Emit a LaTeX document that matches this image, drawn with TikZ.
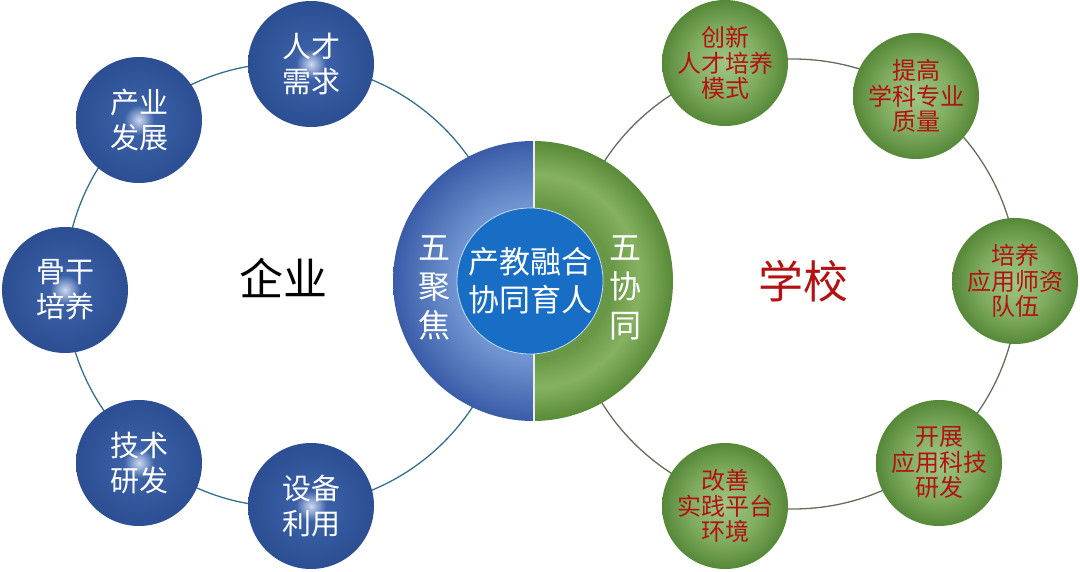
\documentclass[tikz,border=0pt]{standalone}
\usepackage{fontspec}
\setmainfont{Noto Sans CJK SC}

\definecolor{bluedark}{RGB}{44,78,146}
\definecolor{bluemid}{RGB}{58,96,166}
\definecolor{blueglow}{RGB}{205,218,242}
\definecolor{greendark}{RGB}{86,136,56}
\definecolor{greenmid}{RGB}{128,172,96}
\definecolor{greenglow}{RGB}{160,198,132}
\definecolor{halfblue}{RGB}{58,92,168}
\definecolor{halfbluelight}{RGB}{112,148,208}
\definecolor{halfgreen}{RGB}{88,138,56}
\definecolor{halfgreenmid}{RGB}{104,152,70}
\definecolor{halfgreenlight}{RGB}{134,178,96}
\definecolor{coreblue}{RGB}{24,110,196}
\definecolor{ringblue}{RGB}{52,112,142}
\definecolor{ringgreen}{RGB}{98,112,88}
\definecolor{schoolred}{RGB}{180,18,18}

\pgfdeclareradialshading{bluebead}{\pgfpoint{0bp}{0bp}}{color(0bp)=(blueglow); color(6bp)=(bluemid); color(25bp)=(bluedark); color(50bp)=(bluedark)}
\pgfdeclareradialshading{greenbead}{\pgfpoint{0bp}{0bp}}{color(0bp)=(greenglow); color(14bp)=(greenmid); color(25bp)=(greendark); color(50bp)=(greendark)}
\pgfdeclareradialshading{bluehalf}{\pgfpoint{0bp}{0bp}}{color(0bp)=(halfbluelight); color(14bp)=(halfbluelight); color(25bp)=(halfblue); color(50bp)=(halfblue)}
\pgfdeclareradialshading{greenhalf}{\pgfpoint{0bp}{0bp}}{color(0bp)=(halfgreenmid); color(14bp)=(halfgreenmid); color(19bp)=(halfgreenlight); color(25bp)=(halfgreen); color(50bp)=(halfgreen)}

\begin{document}
\begin{tikzpicture}[x=1pt,y=-1pt,
  qiye/.style={circle,minimum size=126pt,inner sep=0pt,shading=bluebead,text=white,align=center,font=\fontsize{29}{35}\selectfont},
  xuexiao/.style={circle,minimum size=126pt,inner sep=0pt,shading=greenbead,text=schoolred,align=center,font=\fontsize{24}{25.5}\selectfont},
  wu/.style={text=white,align=center,inner sep=0pt,font=\fontsize{32}{39}\selectfont}]
  \useasboundingbox (0,0) rectangle (1080,572);
  \coordinate (left) at (287,285);
  \coordinate (right) at (793,284);
  \coordinate (hub) at (533,281);
  \draw[ringblue,line width=1.3pt] (left) circle (222);
  \draw[ringgreen,line width=1.3pt] (right) circle (225);
  % centre disc
  \begin{scope}
    \clip (hub) ++(-142,-142) rectangle ++(142,284);
    \shade[shading=bluehalf] (hub) circle (140);
  \end{scope}
  \begin{scope}
    \clip (hub) ++(0,-142) rectangle ++(142,284);
    \shade[shading=greenhalf] (hub) circle (140);
  \end{scope}
  \draw[white!85!gray,line width=1.2pt] (hub) ++(1,-140) -- ++(0,280);
  \node[circle,minimum size=146pt,inner sep=0pt,fill=coreblue,draw=white!75!coreblue,line width=0.8pt,text=white,align=center,font=\fontsize{31}{38}\selectfont] (core) at (530,281) {产教融合\\协同育人};
  \node[wu] (jujiao) at (434,288) {五\\聚\\焦};
  \node[wu] (xietong) at (625,288) {五\\协\\同};
  % enterprise
  \node[qiye] (xuqiu) at (311,64) {人才\\需求};
  \node[qiye] (fazhan) at (139,120) {产业\\发展};
  \node[qiye] (gugan) at (65,290) {骨干\\培养};
  \node[qiye] (yanfa) at (139,463) {技术\\研发};
  \node[qiye] (liyong) at (311,506) {设备\\利用};
  \node[font=\fontsize{44}{48}\selectfont] (qiyelabel) at (283,278) {企业};
  % school
  \node[xuexiao] (moshi) at (725,63) {创新\\人才培养\\模式};
  \node[xuexiao] (zhiliang) at (916,96) {提高\\学科专业\\质量};
  \node[xuexiao] (shizi) at (1015,281) {培养\\应用师资\\队伍};
  \node[xuexiao] (keji) at (939,463) {开展\\应用科技\\研发};
  \node[xuexiao] (pingtai) at (725,506) {改善\\实践平台\\环境};
  \node[text=schoolred,font=\fontsize{45}{48}\selectfont] (xuexiaolabel) at (803,281) {学校};
\end{tikzpicture}
\end{document}
